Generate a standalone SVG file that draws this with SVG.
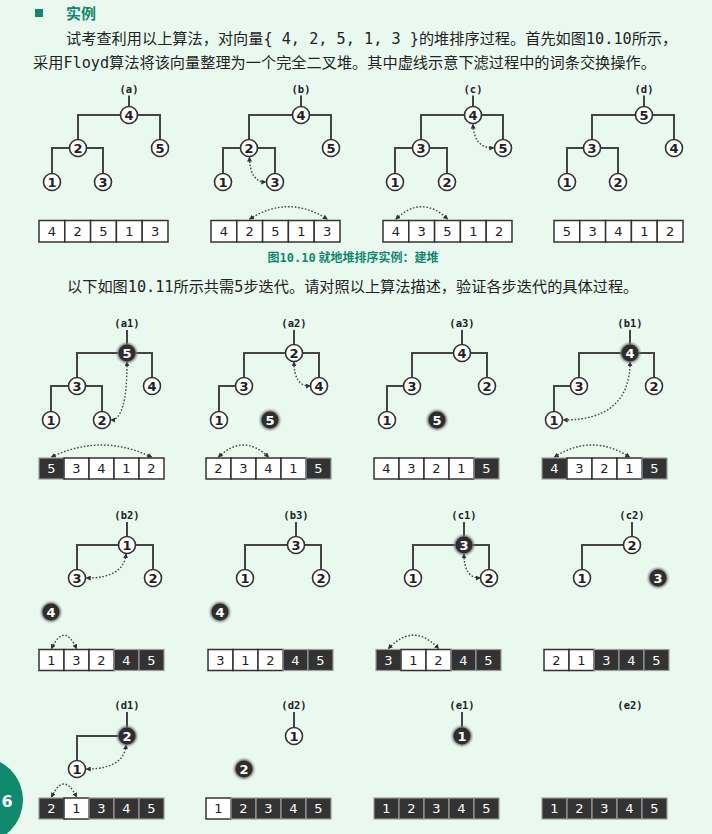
<svg xmlns="http://www.w3.org/2000/svg" width="712" height="834" viewBox="0 0 712 834">
<defs>
<style>
.body{font-family:"Noto Sans CJK SC","Noto Sans",sans-serif;font-size:15.2px;fill:#222}
.mono{font-family:"DejaVu Sans Mono","Liberation Mono",monospace}
.title{font-family:"Noto Sans CJK SC",sans-serif;font-size:15px;font-weight:bold;fill:#11886b}
.cap{font-family:"Noto Sans CJK SC",sans-serif;font-size:12px;font-weight:bold;fill:#11886b}
.lbl{font-family:"DejaVu Sans Mono","Liberation Mono",monospace;font-size:10.5px;font-weight:bold;fill:#222;text-anchor:middle}
.e{fill:none;stroke:#444;stroke-width:2}
.n circle{fill:#fff;stroke:#333;stroke-width:1.6}
.n text,.d text{font-family:"DejaVu Sans",sans-serif;font-size:13px;font-weight:bold;text-anchor:middle;fill:#222}
.d .h{fill:#777;filter:url(#blur)}
.d .b{fill:#2e2e2e}
.d text{fill:#fff}
.w{fill:#fff;stroke:#333;stroke-width:1.5}
.k{fill:#333;stroke:#9a9a9a;stroke-width:1.2}
.ct{font-family:"DejaVu Sans",sans-serif;font-size:13px;text-anchor:middle;fill:#222}
.kt{font-family:"DejaVu Sans",sans-serif;font-size:13px;text-anchor:middle;fill:#fff}
.sw{fill:none;stroke:#444;stroke-width:1.4;stroke-dasharray:1.6 1.8;marker-start:url(#ah);marker-end:url(#ah)}
</style>
<marker id="ah" viewBox="0 0 6 6" refX="5" refY="3" markerWidth="5" markerHeight="5" markerUnits="userSpaceOnUse" orient="auto-start-reverse"><path d="M0,0 L6,3 L0,6 z" fill="#333"/></marker>
<filter id="blur" x="-50%" y="-50%" width="200%" height="200%"><feGaussianBlur stdDeviation="1.2"/></filter>
</defs>
<rect width="712" height="834" fill="#e9f9f0"/>

<!-- text -->
<rect x="35" y="9" width="8" height="8" fill="#11886b"/>
<text class="title" x="66" y="18.5">实例</text>
<text class="body" x="66" y="43.7">试考查利用以上算法，对向量<tspan class="mono">{ 4, 2, 5, 1, 3 }</tspan>的堆排序过程。首先如图<tspan class="mono">10.10</tspan>所示，</text>
<text class="body" x="33" y="67.7">采用<tspan class="mono">Floyd</tspan>算法将该向量整理为一个完全二叉堆。其中虚线示意下滤过程中的词条交换操作。</text>
<text class="cap" x="353" y="261.5" text-anchor="middle">图<tspan class="mono">10.10</tspan> 就地堆排序实例：建堆</text>
<text class="body" x="67" y="291.5">以下如图<tspan class="mono">10.11</tspan>所示共需<tspan class="mono">5</tspan>步迭代。请对照以上算法描述，验证各步迭代的具体过程。</text>

<!-- labels -->
<g id="labels">
<text class="lbl" x="129" y="92.5">(a)</text>
<text class="lbl" x="301" y="92.5">(b)</text>
<text class="lbl" x="473" y="92.5">(c)</text>
<text class="lbl" x="644" y="92.5">(d)</text>
<text class="lbl" x="127" y="326.5">(a1)</text>
<text class="lbl" x="294" y="326.5">(a2)</text>
<text class="lbl" x="462" y="326.5">(a3)</text>
<text class="lbl" x="630" y="326.5">(b1)</text>
<text class="lbl" x="127" y="518.5">(b2)</text>
<text class="lbl" x="296" y="518.5">(b3)</text>
<text class="lbl" x="464" y="518.5">(c1)</text>
<text class="lbl" x="632" y="518.5">(c2)</text>
<text class="lbl" x="127" y="708.5">(d1)</text>
<text class="lbl" x="294" y="708.5">(d2)</text>
<text class="lbl" x="462" y="708.5">(e1)</text>
<text class="lbl" x="630" y="708.5">(e2)</text>
</g>

<!-- connectors -->
<g id="connectors">
<path class="e" d="M129,95.5V106.5M78,139.5V115H160V139.5M52,173.5V148H103V173.5"/>
<path class="e" d="M301,95.5V106.5M249,139.5V115H331V139.5M223,173.5V148H275V173.5"/>
<path class="e" d="M473,95.5V106.5M421,139.5V115H503V139.5M395,173.5V148H447V173.5"/>
<path class="e" d="M644,95.5V106.5M592,139.5V115H674V139.5M567,173.5V148H618V173.5"/>
<path class="e" d="M127,330V344.5M77,377.5V353H152V377.5M51,411.5V386H102V411.5"/>
<path class="e" d="M294,330V344.5M244,377.5V353H319V377.5M219,411.5V386H244"/>
<path class="e" d="M462,330V344.5M412,377.5V353H487V377.5M387,411.5V386H412"/>
<path class="e" d="M630,330V344.5M579,377.5V353H654V377.5M554,411.5V386H579"/>
<path class="e" d="M127,522V536.5M77,569.5V545H153V569.5"/>
<path class="e" d="M296,522V536.5M245,569.5V545H321V569.5"/>
<path class="e" d="M464,522V536.5M413,569.5V545H489V569.5"/>
<path class="e" d="M632,522V536.5M582,569.5V545H632"/>
<path class="e" d="M127,712V727.5M77,760.5V736H127"/>
<path class="e" d="M294,712V727.5"/>
<path class="e" d="M462,712V727.5"/>
<!-- swaps -->
<path class="sw" d="M249.5,157.5Q250,182 265.5,182"/>
<path class="sw" d="M249.7,219Q288.4,194.4 327.1,219"/>
<path class="sw" d="M473,124.5Q474,148 493.5,148"/>
<path class="sw" d="M395.9,219Q421.7,194.4 447.5,219"/>
<path class="sw" d="M127,362Q127,420 111,420"/>
<path class="sw" d="M51.5,457Q101.5,433 151.5,457"/>
<path class="sw" d="M294,362Q294,386 310,386"/>
<path class="sw" d="M218.5,457Q243.5,433 268.5,457"/>
<path class="sw" d="M630,362Q630,420 563.5,420"/>
<path class="sw" d="M554.5,457Q592,433 629.5,457"/>
<path class="sw" d="M126,554Q124,578 86.5,578"/>
<path class="sw" d="M51.5,648.5Q64,622 76.5,648.5"/>
<path class="sw" d="M464,554Q464,578 480,578"/>
<path class="sw" d="M388.5,648.5Q413.5,622 438.5,648.5"/>
<path class="sw" d="M126,745Q124,769 86.5,769"/>
<path class="sw" d="M51.5,797Q64,771 76.5,797"/>
</g>

<!-- Fig 10.10 nodes -->
<g id="ta">
<g class="n" id="ta-4"><circle cx="129" cy="115" r="8.5"/><text x="129" y="119.6">4</text></g>
<g class="n" id="ta-2"><circle cx="78" cy="148" r="8.5"/><text x="78" y="152.6">2</text></g>
<g class="n" id="ta-5"><circle cx="160" cy="148" r="8.5"/><text x="160" y="152.6">5</text></g>
<g class="n" id="ta-1"><circle cx="52" cy="182" r="8.5"/><text x="52" y="186.6">1</text></g>
<g class="n" id="ta-3"><circle cx="103" cy="182" r="8.5"/><text x="103" y="186.6">3</text></g>
</g>
<g id="tb">
<g class="n" id="tb-4"><circle cx="301" cy="115" r="8.5"/><text x="301" y="119.6">4</text></g>
<g class="n" id="tb-2"><circle cx="249" cy="148" r="8.5"/><text x="249" y="152.6">2</text></g>
<g class="n" id="tb-5"><circle cx="331" cy="148" r="8.5"/><text x="331" y="152.6">5</text></g>
<g class="n" id="tb-1"><circle cx="223" cy="182" r="8.5"/><text x="223" y="186.6">1</text></g>
<g class="n" id="tb-3"><circle cx="275" cy="182" r="8.5"/><text x="275" y="186.6">3</text></g>
</g>
<g id="tc">
<g class="n" id="tc-4"><circle cx="473" cy="115" r="8.5"/><text x="473" y="119.6">4</text></g>
<g class="n" id="tc-3"><circle cx="421" cy="148" r="8.5"/><text x="421" y="152.6">3</text></g>
<g class="n" id="tc-5"><circle cx="503" cy="148" r="8.5"/><text x="503" y="152.6">5</text></g>
<g class="n" id="tc-1"><circle cx="395" cy="182" r="8.5"/><text x="395" y="186.6">1</text></g>
<g class="n" id="tc-2"><circle cx="447" cy="182" r="8.5"/><text x="447" y="186.6">2</text></g>
</g>
<g id="td">
<g class="n" id="td-5"><circle cx="644" cy="115" r="8.5"/><text x="644" y="119.6">5</text></g>
<g class="n" id="td-3"><circle cx="592" cy="148" r="8.5"/><text x="592" y="152.6">3</text></g>
<g class="n" id="td-4"><circle cx="674" cy="148" r="8.5"/><text x="674" y="152.6">4</text></g>
<g class="n" id="td-1"><circle cx="567" cy="182" r="8.5"/><text x="567" y="186.6">1</text></g>
<g class="n" id="td-2"><circle cx="618" cy="182" r="8.5"/><text x="618" y="186.6">2</text></g>
</g>

<!-- Fig 10.10 arrays -->
<g id="arr-a">
<rect class="w" x="39" y="220.5" width="25.8" height="21.5"/><rect class="w" x="64.8" y="220.5" width="25.8" height="21.5"/><rect class="w" x="90.6" y="220.5" width="25.8" height="21.5"/><rect class="w" x="116.4" y="220.5" width="25.8" height="21.5"/><rect class="w" x="142.2" y="220.5" width="25.8" height="21.5"/>
<text class="ct" x="51.9" y="235.9">4</text><text class="ct" x="77.7" y="235.9">2</text><text class="ct" x="103.5" y="235.9">5</text><text class="ct" x="129.3" y="235.9">1</text><text class="ct" x="155.1" y="235.9">3</text>
</g>
<g id="arr-b">
<rect class="w" x="211" y="220.5" width="25.8" height="21.5"/><rect class="w" x="236.8" y="220.5" width="25.8" height="21.5"/><rect class="w" x="262.6" y="220.5" width="25.8" height="21.5"/><rect class="w" x="288.4" y="220.5" width="25.8" height="21.5"/><rect class="w" x="314.2" y="220.5" width="25.8" height="21.5"/>
<text class="ct" x="223.9" y="235.9">4</text><text class="ct" x="249.7" y="235.9">2</text><text class="ct" x="275.5" y="235.9">5</text><text class="ct" x="301.3" y="235.9">1</text><text class="ct" x="327.1" y="235.9">3</text>
</g>
<g id="arr-c">
<rect class="w" x="383" y="220.5" width="25.8" height="21.5"/><rect class="w" x="408.8" y="220.5" width="25.8" height="21.5"/><rect class="w" x="434.6" y="220.5" width="25.8" height="21.5"/><rect class="w" x="460.4" y="220.5" width="25.8" height="21.5"/><rect class="w" x="486.2" y="220.5" width="25.8" height="21.5"/>
<text class="ct" x="395.9" y="235.9">4</text><text class="ct" x="421.7" y="235.9">3</text><text class="ct" x="447.5" y="235.9">5</text><text class="ct" x="473.3" y="235.9">1</text><text class="ct" x="499.1" y="235.9">2</text>
</g>
<g id="arr-d">
<rect class="w" x="554" y="220.5" width="25.8" height="21.5"/><rect class="w" x="579.8" y="220.5" width="25.8" height="21.5"/><rect class="w" x="605.6" y="220.5" width="25.8" height="21.5"/><rect class="w" x="631.4" y="220.5" width="25.8" height="21.5"/><rect class="w" x="657.2" y="220.5" width="25.8" height="21.5"/>
<text class="ct" x="566.9" y="235.9">5</text><text class="ct" x="592.7" y="235.9">3</text><text class="ct" x="618.5" y="235.9">4</text><text class="ct" x="644.3" y="235.9">1</text><text class="ct" x="670.1" y="235.9">2</text>
</g>

<!-- Fig 10.11 row 1 -->
<g id="a1">
<g class="d" id="a1-5"><circle class="h" cx="127" cy="353" r="10"/><circle class="b" cx="127" cy="353" r="8.5"/><text x="127" y="357.6">5</text></g>
<g class="n" id="a1-3"><circle cx="77" cy="386" r="8.5"/><text x="77" y="390.6">3</text></g>
<g class="n" id="a1-4"><circle cx="152" cy="386" r="8.5"/><text x="152" y="390.6">4</text></g>
<g class="n" id="a1-1"><circle cx="51" cy="420" r="8.5"/><text x="51" y="424.6">1</text></g>
<g class="n" id="a1-2"><circle cx="102" cy="420" r="8.5"/><text x="102" y="424.6">2</text></g>
<g id="a1-arr">
<rect class="k" x="39" y="458" width="25" height="21"/><rect class="w" x="64" y="458" width="25" height="21"/><rect class="w" x="89" y="458" width="25" height="21"/><rect class="w" x="114" y="458" width="25" height="21"/><rect class="w" x="139" y="458" width="25" height="21"/>
<text class="kt" x="51.5" y="473.1">5</text><text class="ct" x="76.5" y="473.1">3</text><text class="ct" x="101.5" y="473.1">4</text><text class="ct" x="126.5" y="473.1">1</text><text class="ct" x="151.5" y="473.1">2</text>
</g>
</g>
<g id="a2">
<g class="n" id="a2-2"><circle cx="294" cy="353" r="8.5"/><text x="294" y="357.6">2</text></g>
<g class="n" id="a2-3"><circle cx="244" cy="386" r="8.5"/><text x="244" y="390.6">3</text></g>
<g class="n" id="a2-4"><circle cx="319" cy="386" r="8.5"/><text x="319" y="390.6">4</text></g>
<g class="n" id="a2-1"><circle cx="219" cy="420" r="8.5"/><text x="219" y="424.6">1</text></g>
<g class="d" id="a2-5"><circle class="h" cx="270" cy="420" r="10"/><circle class="b" cx="270" cy="420" r="8.5"/><text x="270" y="424.6">5</text></g>
<g id="a2-arr">
<rect class="w" x="206" y="458" width="25" height="21"/><rect class="w" x="231" y="458" width="25" height="21"/><rect class="w" x="256" y="458" width="25" height="21"/><rect class="w" x="281" y="458" width="25" height="21"/><rect class="k" x="306" y="458" width="25" height="21"/>
<text class="ct" x="218.5" y="473.1">2</text><text class="ct" x="243.5" y="473.1">3</text><text class="ct" x="268.5" y="473.1">4</text><text class="ct" x="293.5" y="473.1">1</text><text class="kt" x="318.5" y="473.1">5</text>
</g>
</g>
<g id="a3">
<g class="n" id="a3-4"><circle cx="462" cy="353" r="8.5"/><text x="462" y="357.6">4</text></g>
<g class="n" id="a3-3"><circle cx="412" cy="386" r="8.5"/><text x="412" y="390.6">3</text></g>
<g class="n" id="a3-2"><circle cx="487" cy="386" r="8.5"/><text x="487" y="390.6">2</text></g>
<g class="n" id="a3-1"><circle cx="387" cy="420" r="8.5"/><text x="387" y="424.6">1</text></g>
<g class="d" id="a3-5"><circle class="h" cx="437" cy="420" r="10"/><circle class="b" cx="437" cy="420" r="8.5"/><text x="437" y="424.6">5</text></g>
<g id="a3-arr">
<rect class="w" x="374" y="458" width="25" height="21"/><rect class="w" x="399" y="458" width="25" height="21"/><rect class="w" x="424" y="458" width="25" height="21"/><rect class="w" x="449" y="458" width="25" height="21"/><rect class="k" x="474" y="458" width="25" height="21"/>
<text class="ct" x="386.5" y="473.1">4</text><text class="ct" x="411.5" y="473.1">3</text><text class="ct" x="436.5" y="473.1">2</text><text class="ct" x="461.5" y="473.1">1</text><text class="kt" x="486.5" y="473.1">5</text>
</g>
</g>
<g id="b1">
<g class="d" id="b1-4"><circle class="h" cx="630" cy="353" r="10"/><circle class="b" cx="630" cy="353" r="8.5"/><text x="630" y="357.6">4</text></g>
<g class="n" id="b1-3"><circle cx="579" cy="386" r="8.5"/><text x="579" y="390.6">3</text></g>
<g class="n" id="b1-2"><circle cx="654" cy="386" r="8.5"/><text x="654" y="390.6">2</text></g>
<g class="n" id="b1-1"><circle cx="554" cy="420" r="8.5"/><text x="554" y="424.6">1</text></g>
<g id="b1-arr">
<rect class="k" x="542" y="458" width="25" height="21"/><rect class="w" x="567" y="458" width="25" height="21"/><rect class="w" x="592" y="458" width="25" height="21"/><rect class="w" x="617" y="458" width="25" height="21"/><rect class="k" x="642" y="458" width="25" height="21"/>
<text class="kt" x="554.5" y="473.1">4</text><text class="ct" x="579.5" y="473.1">3</text><text class="ct" x="604.5" y="473.1">2</text><text class="ct" x="629.5" y="473.1">1</text><text class="kt" x="654.5" y="473.1">5</text>
</g>
</g>

<!-- row 2 -->
<g id="b2">
<g class="n" id="b2-1"><circle cx="127" cy="545" r="8.5"/><text x="127" y="549.6">1</text></g>
<g class="n" id="b2-3"><circle cx="77" cy="578" r="8.5"/><text x="77" y="582.6">3</text></g>
<g class="n" id="b2-2"><circle cx="153" cy="578" r="8.5"/><text x="153" y="582.6">2</text></g>
<g class="d" id="b2-4"><circle class="h" cx="51" cy="612" r="10"/><circle class="b" cx="51" cy="612" r="8.5"/><text x="51" y="616.6">4</text></g>
<g id="b2-arr">
<rect class="w" x="39" y="649.5" width="25" height="21"/><rect class="w" x="64" y="649.5" width="25" height="21"/><rect class="w" x="89" y="649.5" width="25" height="21"/><rect class="k" x="114" y="649.5" width="25" height="21"/><rect class="k" x="139" y="649.5" width="25" height="21"/>
<text class="ct" x="51.5" y="664.6">1</text><text class="ct" x="76.5" y="664.6">3</text><text class="ct" x="101.5" y="664.6">2</text><text class="kt" x="126.5" y="664.6">4</text><text class="kt" x="151.5" y="664.6">5</text>
</g>
</g>
<g id="b3">
<g class="n" id="b3-3"><circle cx="296" cy="545" r="8.5"/><text x="296" y="549.6">3</text></g>
<g class="n" id="b3-1"><circle cx="245" cy="578" r="8.5"/><text x="245" y="582.6">1</text></g>
<g class="n" id="b3-2"><circle cx="321" cy="578" r="8.5"/><text x="321" y="582.6">2</text></g>
<g class="d" id="b3-4"><circle class="h" cx="220" cy="612" r="10"/><circle class="b" cx="220" cy="612" r="8.5"/><text x="220" y="616.6">4</text></g>
<g id="b3-arr">
<rect class="w" x="208" y="649.5" width="25" height="21"/><rect class="w" x="233" y="649.5" width="25" height="21"/><rect class="w" x="258" y="649.5" width="25" height="21"/><rect class="k" x="283" y="649.5" width="25" height="21"/><rect class="k" x="308" y="649.5" width="25" height="21"/>
<text class="ct" x="220.5" y="664.6">3</text><text class="ct" x="245.5" y="664.6">1</text><text class="ct" x="270.5" y="664.6">2</text><text class="kt" x="295.5" y="664.6">4</text><text class="kt" x="320.5" y="664.6">5</text>
</g>
</g>
<g id="c1">
<g class="d" id="c1-3"><circle class="h" cx="464" cy="545" r="10"/><circle class="b" cx="464" cy="545" r="8.5"/><text x="464" y="549.6">3</text></g>
<g class="n" id="c1-1"><circle cx="413" cy="578" r="8.5"/><text x="413" y="582.6">1</text></g>
<g class="n" id="c1-2"><circle cx="489" cy="578" r="8.5"/><text x="489" y="582.6">2</text></g>
<g id="c1-arr">
<rect class="k" x="376" y="649.5" width="25" height="21"/><rect class="w" x="401" y="649.5" width="25" height="21"/><rect class="w" x="426" y="649.5" width="25" height="21"/><rect class="k" x="451" y="649.5" width="25" height="21"/><rect class="k" x="476" y="649.5" width="25" height="21"/>
<text class="kt" x="388.5" y="664.6">3</text><text class="ct" x="413.5" y="664.6">1</text><text class="ct" x="438.5" y="664.6">2</text><text class="kt" x="463.5" y="664.6">4</text><text class="kt" x="488.5" y="664.6">5</text>
</g>
</g>
<g id="c2">
<g class="n" id="c2-2"><circle cx="632" cy="545" r="8.5"/><text x="632" y="549.6">2</text></g>
<g class="n" id="c2-1"><circle cx="582" cy="578" r="8.5"/><text x="582" y="582.6">1</text></g>
<g class="d" id="c2-3"><circle class="h" cx="658" cy="578" r="10"/><circle class="b" cx="658" cy="578" r="8.5"/><text x="658" y="582.6">3</text></g>
<g id="c2-arr">
<rect class="w" x="544" y="649.5" width="25" height="21"/><rect class="w" x="569" y="649.5" width="25" height="21"/><rect class="k" x="594" y="649.5" width="25" height="21"/><rect class="k" x="619" y="649.5" width="25" height="21"/><rect class="k" x="644" y="649.5" width="25" height="21"/>
<text class="ct" x="556.5" y="664.6">2</text><text class="ct" x="581.5" y="664.6">1</text><text class="kt" x="606.5" y="664.6">3</text><text class="kt" x="631.5" y="664.6">4</text><text class="kt" x="656.5" y="664.6">5</text>
</g>
</g>

<!-- row 3 -->
<g id="d1">
<g class="d" id="d1-2"><circle class="h" cx="127" cy="736" r="10"/><circle class="b" cx="127" cy="736" r="8.5"/><text x="127" y="740.6">2</text></g>
<g class="n" id="d1-1"><circle cx="77" cy="769" r="8.5"/><text x="77" y="773.6">1</text></g>
<g id="d1-arr">
<rect class="k" x="39" y="798" width="25" height="21"/><rect class="w" x="64" y="798" width="25" height="21"/><rect class="k" x="89" y="798" width="25" height="21"/><rect class="k" x="114" y="798" width="25" height="21"/><rect class="k" x="139" y="798" width="25" height="21"/>
<text class="kt" x="51.5" y="813.1">2</text><text class="ct" x="76.5" y="813.1">1</text><text class="kt" x="101.5" y="813.1">3</text><text class="kt" x="126.5" y="813.1">4</text><text class="kt" x="151.5" y="813.1">5</text>
</g>
</g>
<g id="d2">
<g class="n" id="d2-1"><circle cx="294" cy="736" r="8.5"/><text x="294" y="740.6">1</text></g>
<g class="d" id="d2-2"><circle class="h" cx="244" cy="769" r="10"/><circle class="b" cx="244" cy="769" r="8.5"/><text x="244" y="773.6">2</text></g>
<g id="d2-arr">
<rect class="w" x="206" y="798" width="25" height="21"/><rect class="k" x="231" y="798" width="25" height="21"/><rect class="k" x="256" y="798" width="25" height="21"/><rect class="k" x="281" y="798" width="25" height="21"/><rect class="k" x="306" y="798" width="25" height="21"/>
<text class="ct" x="218.5" y="813.1">1</text><text class="kt" x="243.5" y="813.1">2</text><text class="kt" x="268.5" y="813.1">3</text><text class="kt" x="293.5" y="813.1">4</text><text class="kt" x="318.5" y="813.1">5</text>
</g>
</g>
<g id="e1">
<g class="d" id="e1-1"><circle class="h" cx="462" cy="736" r="10"/><circle class="b" cx="462" cy="736" r="8.5"/><text x="462" y="740.6">1</text></g>
<g id="e1-arr">
<rect class="k" x="374" y="798" width="25" height="21"/><rect class="k" x="399" y="798" width="25" height="21"/><rect class="k" x="424" y="798" width="25" height="21"/><rect class="k" x="449" y="798" width="25" height="21"/><rect class="k" x="474" y="798" width="25" height="21"/>
<text class="kt" x="386.5" y="813.1">1</text><text class="kt" x="411.5" y="813.1">2</text><text class="kt" x="436.5" y="813.1">3</text><text class="kt" x="461.5" y="813.1">4</text><text class="kt" x="486.5" y="813.1">5</text>
</g>
</g>
<g id="e2">
<g id="e2-arr">
<rect class="k" x="542" y="798" width="25" height="21"/><rect class="k" x="567" y="798" width="25" height="21"/><rect class="k" x="592" y="798" width="25" height="21"/><rect class="k" x="617" y="798" width="25" height="21"/><rect class="k" x="642" y="798" width="25" height="21"/>
<text class="kt" x="554.5" y="813.1">1</text><text class="kt" x="579.5" y="813.1">2</text><text class="kt" x="604.5" y="813.1">3</text><text class="kt" x="629.5" y="813.1">4</text><text class="kt" x="654.5" y="813.1">5</text>
</g>
</g>

<!-- page number -->
<g id="page">
<circle cx="-20" cy="800" r="43" fill="#0e8a6c"/>
<text x="7" y="807" text-anchor="middle" font-family="DejaVu Sans,sans-serif" font-size="16" font-weight="bold" fill="#fff">6</text>
</g>
</svg>
